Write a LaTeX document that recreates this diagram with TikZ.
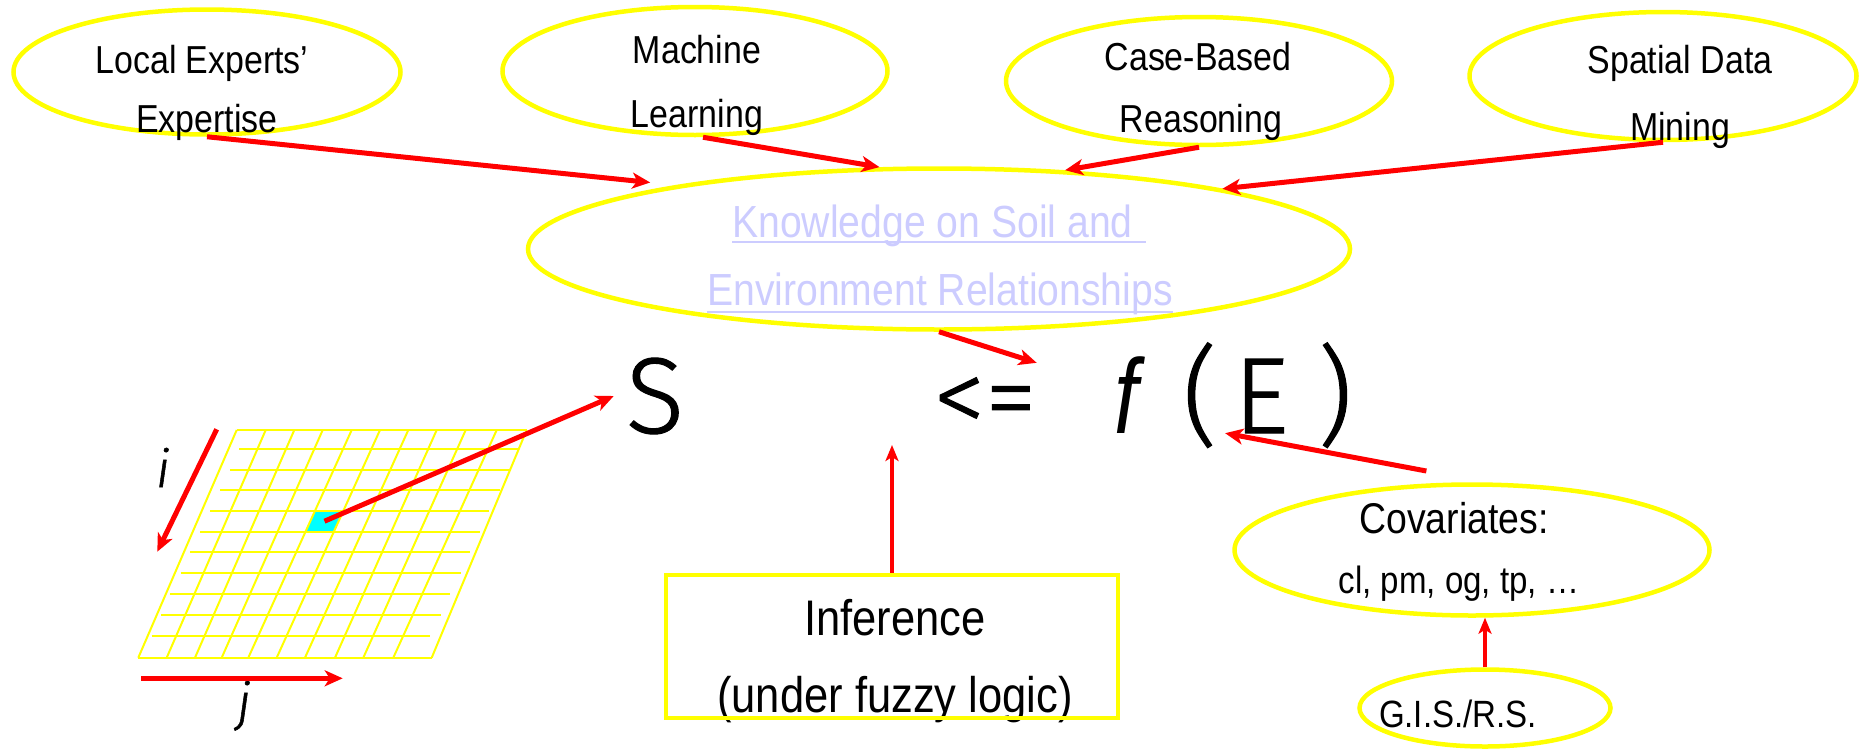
\documentclass[tikz,border=0pt]{standalone}
\usepackage{fontspec}
\setmainfont{Liberation Sans}[FakeStretch=0.87]
\newfontfamily\bigf{Fira Sans}[UprightFont={* Light}, ItalicFont={* Light Italic}, FakeBold=1]
\newfontfamily\ffont{Liberation Sans}[FakeStretch=0.8]
\usetikzlibrary{shapes.geometric,arrows.meta,calc}
\definecolor{ylw}{RGB}{255,255,0}
\definecolor{rd}{RGB}{255,0,0}
\definecolor{cy}{RGB}{0,255,255}
\definecolor{lav}{RGB}{204,204,255}
\newcommand{\fsz}[1]{\fontsize{#1}{#1}\selectfont}
\begin{document}
\begin{tikzpicture}[x=1pt,y=-1pt,
  ell/.style={ellipse, draw=ylw, line width=4.5pt, inner sep=0pt},
  txt/.style={inner sep=0pt, anchor=base},
  arr/.style={draw=rd, line width=5pt, -{Stealth[length=18pt,width=16pt,inset=5pt]}},
  thinarr/.style={draw=rd, line width=3.5pt, -{Stealth[length=16pt,width=13pt,inset=4pt]}},
  gl/.style={draw=ylw, line width=2pt},
  uline/.style={draw=lav, line width=2.7pt}]
\useasboundingbox (0,0) rectangle (1863,750);

% ellipses
\node[ell, minimum width=387pt, minimum height=125pt] (le) at (207,72) {};
\node[ell, minimum width=385pt, minimum height=128pt] (ml) at (695,71) {};
\node[ell, minimum width=386pt, minimum height=128pt] (cb) at (1199,81) {};
\node[ell, minimum width=387pt, minimum height=128pt] (sd) at (1663,76) {};
\node[ell, minimum width=822pt, minimum height=161pt] (kn) at (939,249) {};
\node[ell, minimum width=475pt, minimum height=131pt] (cov) at (1472,550) {};
\node[ell, minimum width=251pt, minimum height=77pt] (gis) at (1485,708) {};

% texts
\node[txt] (le1) at (202,73) {\fsz{39}Local Experts’};
\node[txt] (le2) at (207,132) {\fsz{39}Expertise};
\node[txt] (ml1) at (697,63) {\fsz{39}Machine};
\node[txt] (ml2) at (697,127) {\fsz{39}Learning};
\node[txt] (cb1) at (1198,70) {\fsz{39}Case-Based};
\node[txt] (cb2) at (1201,132) {\fsz{39}Reasoning};
\node[txt] (sd1) at (1680,73) {\fsz{39}Spatial Data};
\node[txt] (sd2) at (1680,140) {\fsz{39}Mining};

\node[txt, anchor=base west, text=lav] (kn1) at (732,237) {\fsz{45}Knowledge on Soil and\kern13pt};
\node[txt, anchor=base west, text=lav] (kn2) at (707,305) {\fsz{45}Environment Relationships};
\draw[uline] ([yshift=-5pt]kn1.base west) -- ([yshift=-5pt]kn1.base east);
\draw[uline] ([yshift=-7pt]kn2.base west) -- ([yshift=-7pt]kn2.base east);

\node[txt] (cov1) at (1454,533) {\fsz{43}Covariates:};
\node[txt] (cov2) at (1459,593) {\fsz{38}cl, pm, og, tp, …};
\node[txt] (gis1) at (1458,727) {\fsz{38}G.I.S./R.S.};

\node[txt] (inf1) at (895,635) {\fsz{50}Inference};
\node[txt] (inf2) at (895,712) {\fsz{50}(under fuzzy logic)};
\node[draw=ylw, line width=4.5pt, minimum width=452pt, minimum height=143pt, inner sep=0pt] (inf) at (892,646.5) {};

% formula
\node[txt] (S) at (655,433) {\bigf\fsz{108}S};
\node[inner sep=0pt, minimum width=92pt, minimum height=84pt] (leq) at (985,405) {\bigf\fsz{104}<=};
\node[txt] (f) at (1126,433) {\ffont\itshape\fsz{106}f};
\node[txt] (lp) at (1200,433) {\bigf\fsz{108}(};
\node[txt] (E) at (1261,433) {\bigf\fsz{108}E};
\node[txt] (rp) at (1335,433) {\bigf\fsz{108})};

% grid
\fill[cy] (315,510.7) -- (343.4,510.7) -- (333.9,531.7) -- (305.5,531.7) -- cycle;
\foreach \a/\b in {236.7/138.3, 265.7/166.7, 294.3/195, 322.7/221.7, 351.7/248.3, 380/276.7, 408.3/305, 436.7/335, 465.7/363.3, 496.7/393.3, 526.7/431.7}
  \draw[gl] (\a,430) -- (\b,657.7);
\draw[gl] (236.7,430) -- (526.7,430);
\draw[gl] (138.3,657.7) -- (431.7,657.7);
\foreach \y/\l/\r in {449/239.3/518.3, 470/230/510, 490/220/500, 510.7/210/489.3, 531.7/200/480, 552.3/190/470, 573.3/180.7/460.7, 594/170/450, 615/161/440.7, 636/151.7/430}
  \draw[gl] (\l,\y) -- (\r,\y);
\coordinate (cell) at (324.5,521.2);

% i, j
\coordinate (i0) at (216.7,429.3);
\coordinate (i1) at (157.3,551.7);
\coordinate (j0) at (141,678.3);
\coordinate (j1) at (342.7,678.3);
\node[txt] (ilab) at (163,487) {\bigf\itshape\fsz{52}i};
\node[txt] (jlab) at (244,720) {\bigf\itshape\fsz{52}j};
\draw[arr] (i0) -- (i1);
\draw[arr] (j0) -- (j1);

% connectors
\draw[arr] (le.south) -- ([xshift=-18pt,yshift=4pt]kn.167.7);
\draw[arr] ([xshift=8pt]ml.south) -- (kn.126.6);
\draw[arr] (cb.south) -- (kn.32.4);
\draw[arr] (sd.south) -- (kn.12);
\draw[arr] (kn.south) -- (leq.north east);
\draw[arr] ([xshift=-10pt,yshift=12pt]cov.118) -- ([xshift=-8pt]E.south west);
\draw[arr] (cell) -- ([xshift=-12pt]S.west);
\coordinate (inftip) at (892,445);
\draw[thinarr] (inf.north) -- (inftip);
\draw[thinarr] (gis.north) -- (gis.north |- cov.south);
\end{tikzpicture}
\end{document}
